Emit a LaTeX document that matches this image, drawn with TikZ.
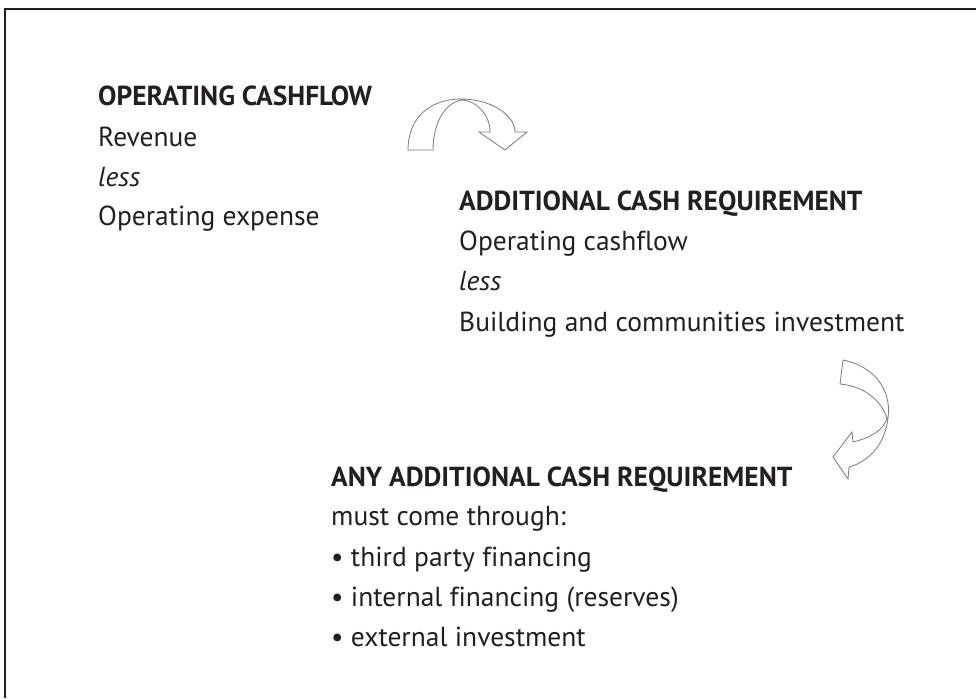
\documentclass[tikz,border=0pt]{standalone}
\usepackage{fontspec}
\setmainfont[Ligatures={NoCommon}]{PT Sans}
\definecolor{ink}{HTML}{231F20}
\definecolor{arrowline}{HTML}{7A7A7A}
\begin{document}
\begin{tikzpicture}[x=1pt, y=-1pt,
        txt/.style={anchor=base west, inner sep=0pt, text=ink, font=\fontsize{27.5}{32}\selectfont},
        head/.style={txt, font=\fontsize{27.5}{32}\selectfont\bfseries},
        bendarrow/.style={draw=arrowline, fill=white, line width=0.8pt, line join=miter}]
            \useasboundingbox (0, 0) rectangle (976, 698);

            % frame, open at the right and the bottom
            \draw[ink, line width=2pt] (5, 698) -- (5, 9.5) -- (976, 9.5);

            % first block
            \node[head] (opcf) at (98, 106) {OPERATING CASHFLOW};
            \node[txt] (rev) at (98, 146) {Revenue};
            \node[txt] (less1) at (98, 186) {\itshape less};
            \node[txt] (opex) at (98, 225) {Operating expense};

            % second block
            \node[head] (addcash) at (459, 210) {ADDITIONAL CASH REQUIREMENT};
            \node[txt] (opcf2) at (459, 250) {Operating cashflow};
            \node[txt] (less2) at (459, 290) {\itshape less};
            \node[txt] (build) at (459, 331) {Building and communities investment};

            % third block
            \node[head] (anycash) at (331, 486) {ANY ADDITIONAL CASH REQUIREMENT};
            \node[txt] (must) at (331, 525) {must come through:};
            \node[txt] (third) at (331, 566) {\textbullet{} third party financing};
            \node[txt] (internal) at (331, 606) {\textbullet{} internal financing (reserves)};
            \node[txt] (external) at (331, 646) {\textbullet{} external investment};

            % curved arrow over the top
            \draw[bendarrow] (408, 150) .. controls (408, 116) and (432, 99) .. (461, 99)
                .. controls (491, 99) and (515, 115) .. (515, 132)
                -- (527, 132) -- (505, 150) -- (479, 132) -- (490, 132)
                .. controls (490, 116) and (478, 101) .. (462, 100)
                .. controls (446, 102) and (433, 122) .. (433, 150) -- cycle;

            % curved arrow down the right side
            \draw[bendarrow] (843, 360) .. controls (874, 366) and (892, 390) .. (888, 418)
                .. controls (885, 445) and (868, 462) .. (849, 467)
                -- (848, 479) -- (833, 457) -- (852, 432) -- (853, 442)
                .. controls (870, 438) and (884, 430) .. (887, 418)
                .. controls (880, 398) and (862, 386) .. (840, 384) -- cycle;
\end{tikzpicture}
\end{document}
